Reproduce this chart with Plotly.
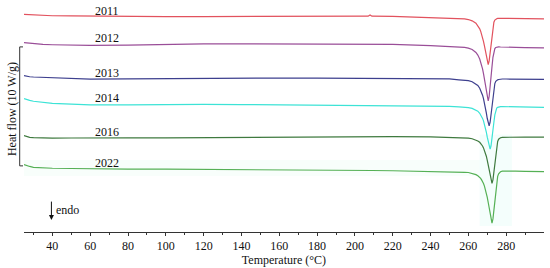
"""
DSC krivulje (heat flow) po godinama, složene jedna iznad druge.
"""
import plotly.graph_objects as go

# Temperatura (°C) - gušće oko pika taljenja
temperature = [25, 26, 28, 30, 35, 40, 50, 60, 80, 100,
               120, 140, 160, 180, 200, 207, 208, 209, 220, 240,
               250, 255, 258, 260, 262, 264, 265, 266, 266.5, 267,
               267.5, 268, 268.5, 269, 269.5, 270, 270.5, 271, 271.5, 272,
               272.5, 273, 273.5, 274, 274.5, 275, 275.5, 276, 277, 278,
               280, 285, 290, 300]

# Heat flow (W/g) relativno prema baznoj liniji kod 100 °C
hf_2011 = [0.18, 0.17, 0.14, 0.12, 0.08, 0.07, 0.05, 0.03, 0.02, 0.00,
           0.00, 0.01, 0.02, 0.03, 0.03, 0.03, 0.14, 0.03, 0.01, -0.08,
           -0.12, -0.18, -0.20, -0.25, -0.36, -0.56, -0.76, -1.03, -1.23, -1.46,
           -1.73, -2.08, -2.47, -2.93, -3.40, -3.83, -4.03, -3.72, -3.13, -2.35,
           -1.58, -0.91, -0.48, -0.29, -0.21, -0.18, -0.15, -0.14, -0.14, -0.15,
           -0.15, -0.16, -0.18, -0.19]
hf_2012 = [0.15, 0.13, 0.08, 0.05, 0.00, -0.03, -0.07, -0.08, -0.06, 0.00,
           0.04, 0.05, 0.05, 0.05, 0.03, 0.03, 0.03, 0.03, 0.00, -0.10,
           -0.16, -0.22, -0.25, -0.31, -0.43, -0.68, -0.90, -1.23, -1.45, -1.73,
           -2.05, -2.46, -2.92, -3.47, -4.02, -4.53, -4.75, -4.38, -3.70, -2.78,
           -1.87, -1.08, -0.58, -0.35, -0.26, -0.23, -0.21, -0.21, -0.22, -0.23,
           -0.23, -0.25, -0.27, -0.29]
hf_2013 = [0.24, 0.20, 0.15, 0.13, 0.10, 0.08, 0.02, -0.05, -0.03, 0.00,
           0.03, 0.04, 0.04, 0.03, 0.02, 0.02, 0.02, 0.02, 0.02, 0.00,
           -0.03, -0.11, -0.13, -0.18, -0.27, -0.44, -0.58, -0.81, -0.97, -1.17,
           -1.40, -1.68, -2.03, -2.42, -2.88, -3.36, -3.79, -3.98, -3.67, -3.08,
           -2.30, -1.52, -0.85, -0.42, -0.23, -0.14, -0.11, -0.08, -0.05, -0.04,
           -0.04, -0.05, -0.06, -0.07]
hf_2014 = [0.49, 0.43, 0.35, 0.27, 0.16, 0.10, 0.03, -0.03, -0.03, 0.00,
           0.01, -0.01, -0.03, -0.05, -0.08, -0.09, -0.09, -0.09, -0.11, -0.13,
           -0.16, -0.20, -0.22, -0.26, -0.33, -0.45, -0.56, -0.74, -0.85, -0.99,
           -1.17, -1.38, -1.63, -1.96, -2.32, -2.75, -3.18, -3.58, -3.75, -3.47,
           -2.93, -2.21, -1.49, -0.88, -0.49, -0.31, -0.24, -0.20, -0.18, -0.18,
           -0.19, -0.21, -0.23, -0.24]
hf_2016 = [0.19, 0.13, 0.04, 0.01, -0.03, -0.03, -0.02, 0.00, 0.00, 0.00,
           0.02, 0.04, 0.06, 0.08, 0.10, 0.11, 0.11, 0.11, 0.10, 0.07,
           0.04, 0.01, -0.01, -0.03, -0.08, -0.18, -0.27, -0.38, -0.46, -0.58,
           -0.69, -0.85, -1.04, -1.28, -1.55, -1.90, -2.28, -2.75, -3.22, -3.64,
           -3.83, -3.53, -2.94, -2.17, -1.39, -0.73, -0.31, -0.12, 0.00, 0.04,
           0.05, 0.06, 0.06, 0.05]
hf_2022 = [0.39, 0.33, 0.23, 0.16, 0.11, 0.08, 0.06, 0.03, 0.01, 0.00,
           -0.01, -0.03, -0.05, -0.08, -0.09, -0.11, -0.11, -0.11, -0.13, -0.17,
           -0.19, -0.24, -0.26, -0.28, -0.34, -0.46, -0.55, -0.68, -0.77, -0.90,
           -1.03, -1.20, -1.42, -1.68, -1.98, -2.37, -2.80, -3.32, -3.83, -4.31,
           -4.53, -4.18, -3.53, -2.67, -1.81, -1.08, -0.60, -0.38, -0.22, -0.16,
           -0.15, -0.16, -0.18, -0.21]

years = ['2011', '2012', '2013', '2014', '2016', '2022']
series = [hf_2011, hf_2012, hf_2013, hf_2014, hf_2016, hf_2022]
# Pomak krivulja po vertikali (W/g)
offsets = [18.11, 15.77, 12.90, 10.72, 7.92, 5.28]
colors = ['#e2525e', '#9a4e98', '#3d3f8e', '#3de3d6', '#3f7a3f', '#55b055']

x_ticks = [40, 60, 80, 100, 120, 140, 160, 180, 200, 220, 240, 260, 280]
x_minor = [30, 50, 70, 90, 110, 130, 150, 170, 190, 210, 230, 250, 270, 290]

# Skala: 10 W/g
scale_bottom = 5.56
scale_size = 10

FONT = 'Liberation Serif, Times New Roman, serif'
Y_MAX = 230 / 12

fig = go.Figure()

# Blago sjenčanje oko pikova (kao u originalu)
fig.add_shape(type='rect', xref='x', yref='y', x0=266, x1=283, y0=0.5, y1=8.2,
              fillcolor='rgba(200,248,240,0.2)', line=dict(width=0), layer='below')
fig.add_shape(type='rect', xref='x', yref='y', x0=25, x1=266, y0=4.7, y1=6.05,
              fillcolor='rgba(205,245,225,0.15)', line=dict(width=0), layer='below')

for year, hf, off, col in zip(years, series, offsets, colors):
    fig.add_trace(go.Scatter(
        x=temperature,
        y=[v + off for v in hf],
        mode='lines',
        name=year,
        line=dict(color=col, width=1.2),
        hoverinfo='skip'
    ))
    fig.add_annotation(
        x=69, y=off, text=year, showarrow=False, yshift=6,
        font=dict(family=FONT, size=12, color='#111')
    )

# Zagrada skale na lijevoj strani
x0 = (19.7 - 24) / 520
x1 = (23.0 - 24) / 520
y0 = scale_bottom
y1 = scale_bottom + scale_size
fig.add_shape(type='path', xref='paper', yref='y',
              path=f'M {x1},{y0} L {x0},{y0} L {x0},{y1} L {x1},{y1}',
              line=dict(color='#333', width=1))

fig.add_annotation(
    xref='paper', yref='paper', x=(12 - 24) / 520, y=(234 - 110) / 230,
    text='Heat flow (10 W/g)', textangle=-90, showarrow=False,
    xanchor='center', yanchor='middle',
    font=dict(family=FONT, size=12, color='#111')
)

# endo strelica
fig.add_annotation(
    x=39.5, y=1.0, ax=0, ay=-20, text='', showarrow=True,
    arrowhead=2, arrowsize=1, arrowwidth=1, arrowcolor='#111'
)
fig.add_annotation(
    x=41, y=1.83, text='endo', showarrow=False, xanchor='left',
    font=dict(family=FONT, size=12, color='#111')
)

fig.update_layout(
    width=550, height=268,
    margin=dict(l=24, r=6, t=4, b=34),
    paper_bgcolor='white', plot_bgcolor='white',
    showlegend=False,
    font=dict(family=FONT, size=12, color='#111'),
    xaxis=dict(
        range=[25, 300], showline=True, linecolor='#333', linewidth=1,
        showgrid=False, zeroline=False,
        tickmode='array', tickvals=x_ticks,
        ticks='outside', ticklen=3, tickcolor='#333',
        minor=dict(tickmode='array', tickvals=x_minor, ticks='outside', ticklen=2, tickcolor='#333'),
        tickfont=dict(family=FONT, size=12, color='#111'),
        title=dict(text='Temperature (°C)', standoff=2,
                   font=dict(family=FONT, size=12, color='#111'))
    ),
    yaxis=dict(visible=False, range=[0, Y_MAX]),
)

# body margin na 0 da figura sjedne točno u prozor
fig.write_html("out.html", config={'displayModeBar': False},
               post_script="document.body.style.margin='0';")
